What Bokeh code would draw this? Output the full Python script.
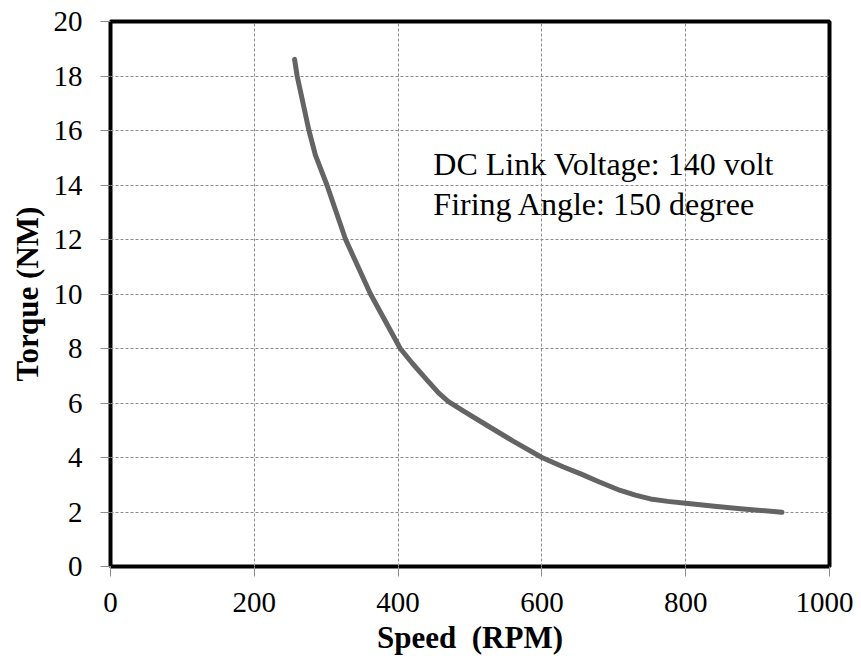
from bokeh.plotting import figure
from bokeh.models import Range1d, Label, FixedTicker
from bokeh.embed import file_html
from bokeh.resources import INLINE

speed = [256, 259.6, 276, 285, 301, 327, 361.6, 403, 420, 440, 456.6, 470, 490, 528, 560, 600,
         630, 654, 680, 709, 730, 751, 775, 800, 840, 876, 934]
torque = [18.61, 18.0, 16.0, 15.1, 14.0, 12.0, 10.0, 8.0, 7.45, 6.85, 6.36, 6.05, 5.72, 5.11, 4.6, 4.0,
          3.65, 3.4, 3.1, 2.79, 2.62, 2.48, 2.39, 2.32, 2.21, 2.12, 1.99]

x_ticks = [0, 200, 400, 600, 800, 1000]
y_ticks = [0, 2, 4, 6, 8, 10, 12, 14, 16, 18, 20]

note_lines = ["DC Link Voltage: 140 volt", "Firing Angle: 150 degree"]

FONT = "Liberation Serif"

p = figure(width=853, height=658, output_backend="svg", toolbar_location=None,
           x_range=Range1d(0, 1000), y_range=Range1d(0, 20),
           min_border_left=110, min_border_right=24, min_border_top=21, min_border_bottom=92)

p.outline_line_color = "black"
p.outline_line_width = 4
p.background_fill_color = "white"
p.border_fill_color = "white"

for ax in (p.xaxis[0], p.yaxis[0]):
    ax.axis_line_color = None
    ax.major_tick_line_color = "#8c8c8c"
    ax.major_tick_line_width = 1
    ax.major_tick_in = 0
    ax.major_tick_out = 10
    ax.minor_tick_line_color = None
    ax.major_label_text_font = FONT
    ax.major_label_text_font_size = "29px"
    ax.major_label_text_color = "black"
    ax.axis_label_text_font = FONT
    ax.axis_label_text_font_size = "31px"
    ax.axis_label_text_font_style = "bold"
    ax.axis_label_text_color = "black"

p.xaxis.ticker = FixedTicker(ticks=x_ticks)
p.yaxis.ticker = FixedTicker(ticks=y_ticks)
p.xaxis.axis_label = "Speed \u00a0(RPM)"
p.yaxis.axis_label = "Torque (NM)"
p.xaxis.major_label_standoff = 16
p.yaxis.major_label_standoff = 18
p.xaxis.axis_label_standoff = 5
p.yaxis.axis_label_standoff = 6

for g in (p.xgrid[0], p.ygrid[0]):
    g.grid_line_color = "#8c8c8c"
    g.grid_line_dash = "3 2"
    g.grid_line_width = 1

p.line(speed, torque, line_color="#646464", line_width=5, line_cap="round", line_join="round")

note_y = [14.78, 13.3]
for txt, yy in zip(note_lines, note_y):
    p.add_layout(Label(x=449, y=yy, text=txt, text_font=FONT, text_font_size="32px",
                       text_color="black", text_baseline="alphabetic", text_align="left"))

open("out.html", "w").write(file_html(p, INLINE))
